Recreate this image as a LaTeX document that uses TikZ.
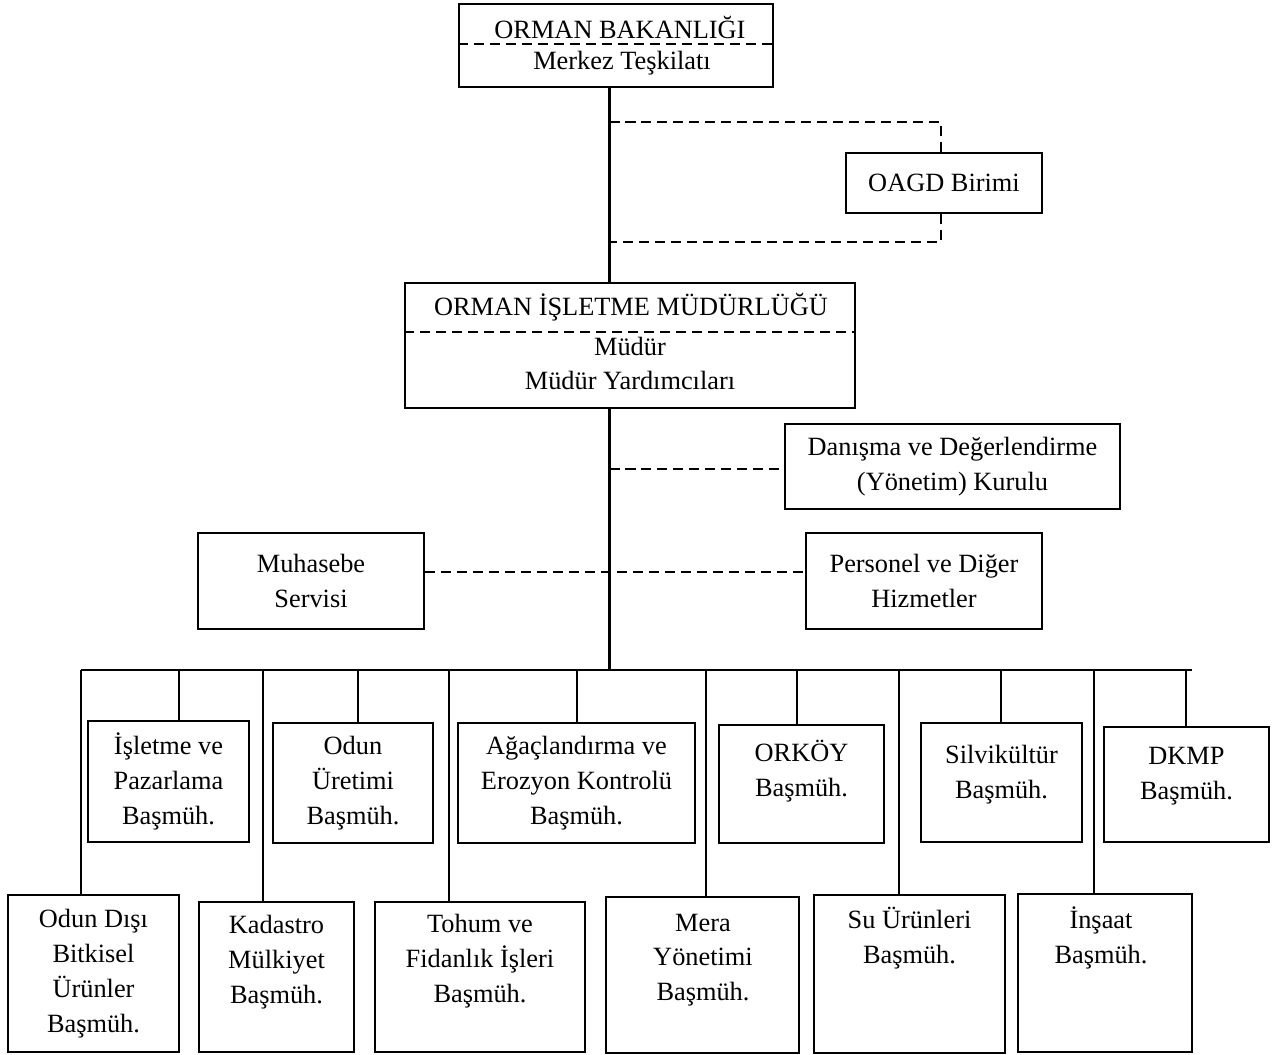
\documentclass[tikz,border=0pt]{standalone}
\usepackage{fontspec}
\setmainfont{Liberation Serif}
\usetikzlibrary{positioning}

\begin{document}
\begin{tikzpicture}[x=0.02cm,y=-0.02cm,
  every node/.style={font=\fontsize{15}{19.8}\selectfont},
  box/.style={draw,line width=1.2pt,inner sep=0pt,align=center},
  wh/.style 2 args={minimum width=#1*0.02cm,minimum height=#2*0.02cm},
  txt/.style={inner sep=0pt,align=center},
  link/.style={line width=1.2pt},
  staff/.style={line width=1.4pt,dash pattern=on 5.7pt off 3.4pt}]
\useasboundingbox (0,0) rectangle (1272,1055);
% ministry and directorate
\node[box,wh={314}{83}] (bakan) at (616,45.5) {};
\node[txt] (bakan-t) at (620,27) {ORMAN BAKANLIĞI};
\node[txt] (merkez) at (622,63) {Merkez Teşkilatı};
\node[box,wh={196}{60}] (oagd) at (944,183) {OAGD Birimi};
\node[box,wh={450}{125}] (mud) at (630,345.5) {};
\node[txt] (mud-t) at (631,307) {ORMAN İŞLETME MÜDÜRLÜĞÜ};
\node[txt] (mudur) at (630,363.5) {Müdür\\Müdür Yardımcıları};
\draw[staff] (bakan.west |- 0,44) -- (bakan.east |- 0,44);
\draw[staff] (mud.west |- 0,332) -- (mud.east |- 0,332);
% staff units
\node[box,wh={335}{85}] (danisma) at (952.5,466.5) {Danışma ve Değerlendirme\\(Yönetim) Kurulu};
\node[box,wh={226}{96}] (muhasebe) at (311,581) {Muhasebe\\Servisi};
\node[box,wh={236}{96}] (personel) at (924,581) {Personel ve Diğer\\Hizmetler};
% upper row
\node[box,wh={161}{121}] (isl) at (168.5,781.5) {İşletme ve\\Pazarlama\\Başmüh.};
\node[box,wh={160}{120}] (odun) at (353,783) {Odun\\Üretimi\\Başmüh.};
\node[box,wh={237}{120}] (agac) at (576.5,783) {Ağaçlandırma ve\\Erozyon Kontrolü\\Başmüh.};
\node[box,wh={165}{118}] (orkoy) at (801.5,784) {};
\node[box,wh={161}{119}] (silv) at (1001.5,782.5) {};
\node[box,wh={165}{115}] (dkmp) at (1186.5,784.5) {};
\node[txt] (orkoy-t) at (801.5,771) {ORKÖY\\Başmüh.};
\node[txt] (silv-t) at (1001.5,775) {Silvikültür\\Başmüh.};
\node[txt] (dkmp-t) at (1186.5,776) {DKMP\\Başmüh.};
% lower row
\node[box,wh={171}{157}] (odd) at (93.5,973.5) {Odun Dışı\\Bitkisel\\Ürünler\\Başmüh.};
\node[box,wh={155}{150}] (kad) at (276.5,977) {};
\node[box,wh={210}{150}] (tohum) at (480,977) {};
\node[box,wh={193}{156}] (mera) at (702.5,975) {};
\node[box,wh={191}{158}] (su) at (909.5,974) {};
\node[box,wh={174}{158}] (insaat) at (1105,973) {};
\node[txt] (kad-t) at (276.5,962) {Kadastro\\Mülkiyet\\Başmüh.};
\node[txt] (tohum-t) at (480,961) {Tohum ve\\Fidanlık İşleri\\Başmüh.};
\node[txt] (mera-t) at (703,960) {Mera\\Yönetimi\\Başmüh.};
\node[txt] (su-t) at (909.5,938) {Su Ürünleri\\Başmüh.};
\node[txt] (insaat-t) at (1101,938) {İnşaat\\Başmüh.};
% connectors
\coordinate (barL) at (81,670);
\coordinate (barR) at (1192,670);
\draw[link] (bakan.south -| 609.5,0) -- (mud.north -| 609.5,0);
\draw[link] (mud.south -| 609.5,0) -- (barL -| 609.5,0);
\draw[link] (barL) -- (barR);
\draw[staff] (609.5,122) -| (oagd.north -| 941,0);
\draw[staff] (oagd.south -| 941,0) |- (609.5,242);
\draw[staff] (609.5,469) -- (danisma.west |- 0,469);
\draw[staff] (muhasebe.east |- 0,572) -- (personel.west |- 0,572);
\foreach \n/\x in {isl/179,odun/358,agac/577,orkoy/797,silv/1001,dkmp/1186,
    odd/81,kad/263,tohum/449,mera/706,su/899,insaat/1094}
  \draw[link] (barL -| \x,0) -- (\n.north -| \x,0);
\end{tikzpicture}
\end{document}
